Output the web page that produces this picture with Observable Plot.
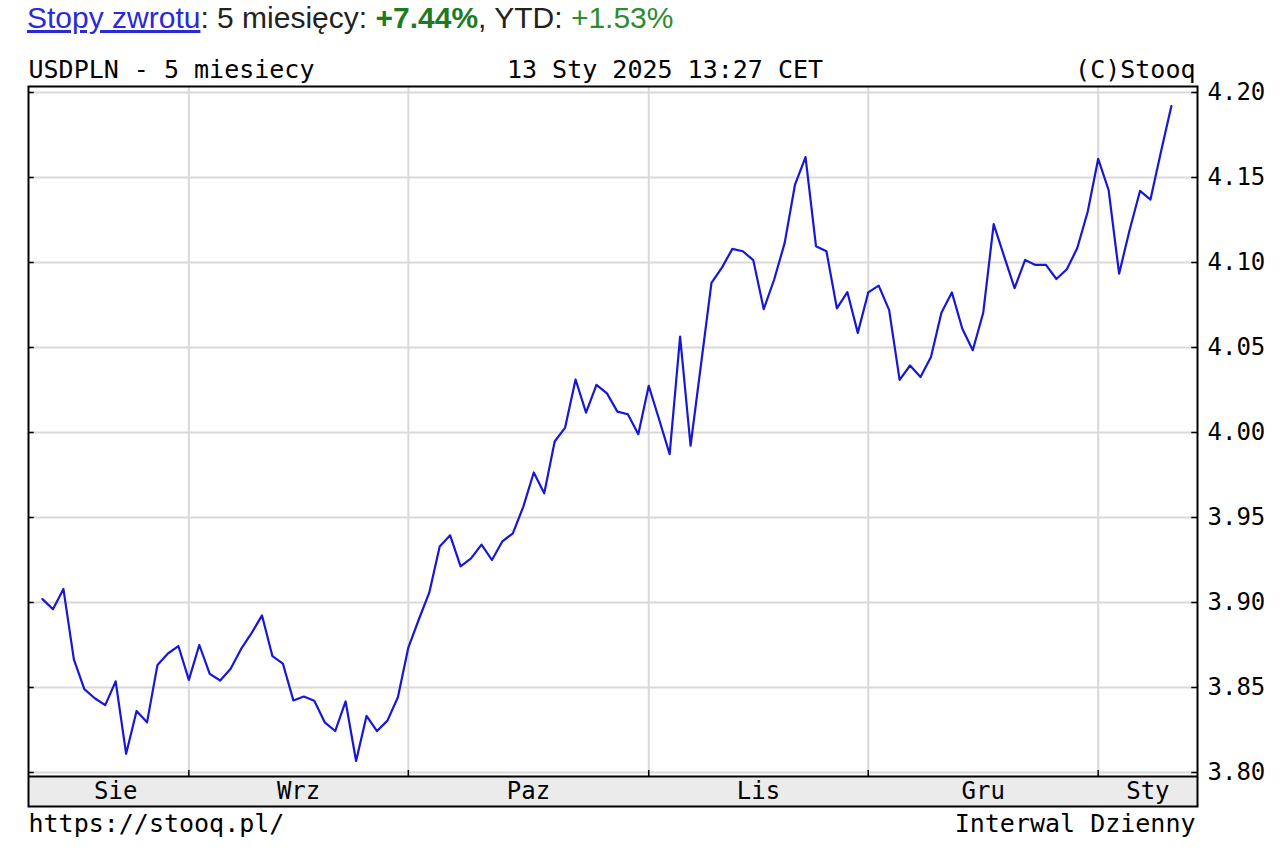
<!DOCTYPE html>
<html>
<head>
<meta charset="utf-8">
<script src="https://cdn.jsdelivr.net/npm/d3@7"></script>
<script src="https://cdn.jsdelivr.net/npm/@observablehq/plot@0.6"></script>
<style>
  html, body { margin: 0; padding: 0; background: #fff; }
  #top { position: relative; height: 45px; width: 1280px; }
  #hdr { position: absolute; left: 27px; top: 3px; font-family: "Liberation Sans", Arial, sans-serif; font-size: 30px; line-height: 30px; color: #222; white-space: nowrap; }
  #hdr a { color: #2a2ad6; text-decoration: underline; }
  #hdr .g1 { color: #1e7a1e; font-weight: bold; }
  #hdr .g2 { color: #2e8b2e; }
  #chart svg { display: block; }
</style>
</head>
<body>
<div id="top"><div id="hdr"><a>Stopy zwrotu</a>: 5 miesięcy: <span class="g1">+7.44%</span>, YTD: <span class="g2">+1.53%</span></div></div>
<div id="chart"></div>
<script>
// ---- data (USDPLN daily close, 13 Aug 2024 – 13 Jan 2025) ----
const dates = [
  "2024-08-13","2024-08-14","2024-08-15","2024-08-16","2024-08-19","2024-08-20","2024-08-21","2024-08-22","2024-08-23","2024-08-26","2024-08-27","2024-08-28","2024-08-29","2024-08-30",
  "2024-09-02","2024-09-03","2024-09-04","2024-09-05","2024-09-06","2024-09-09","2024-09-10","2024-09-11","2024-09-12","2024-09-13","2024-09-16","2024-09-17","2024-09-18","2024-09-19","2024-09-20","2024-09-23","2024-09-24","2024-09-25","2024-09-26","2024-09-27","2024-09-30",
  "2024-10-01","2024-10-02","2024-10-03","2024-10-04","2024-10-07","2024-10-08","2024-10-09","2024-10-10","2024-10-11","2024-10-14","2024-10-15","2024-10-16","2024-10-17","2024-10-18","2024-10-21","2024-10-22","2024-10-23","2024-10-24","2024-10-25","2024-10-28","2024-10-29","2024-10-30","2024-10-31",
  "2024-11-01","2024-11-04","2024-11-05","2024-11-06","2024-11-07","2024-11-08","2024-11-11","2024-11-12","2024-11-13","2024-11-14","2024-11-15","2024-11-18","2024-11-19","2024-11-20","2024-11-21","2024-11-22","2024-11-25","2024-11-26","2024-11-27","2024-11-28","2024-11-29",
  "2024-12-02","2024-12-03","2024-12-04","2024-12-05","2024-12-06","2024-12-09","2024-12-10","2024-12-11","2024-12-12","2024-12-13","2024-12-16","2024-12-17","2024-12-18","2024-12-19","2024-12-20","2024-12-23","2024-12-24","2024-12-25","2024-12-26","2024-12-27","2024-12-30","2024-12-31",
  "2025-01-02","2025-01-03","2025-01-06","2025-01-07","2025-01-08","2025-01-09","2025-01-10","2025-01-13"
];
const values = [
  3.902, 3.896, 3.908, 3.8665, 3.849, 3.8437, 3.8396, 3.8536, 3.811, 3.8362, 3.8295, 3.8633, 3.870, 3.8744,
  3.8545, 3.875, 3.858, 3.8541, 3.861, 3.8727, 3.882, 3.8924, 3.8684, 3.864, 3.8424, 3.8447, 3.8422, 3.8295, 3.8244, 3.8418, 3.8068, 3.8333, 3.8244, 3.8305, 3.8443,
  3.8735, 3.890, 3.9058, 3.933, 3.9395, 3.9213, 3.926, 3.934, 3.925, 3.936, 3.9407, 3.9564, 3.9765, 3.9642, 3.9947, 4.0029, 4.0312, 4.0117, 4.028, 4.023, 4.0123, 4.0107, 3.999,
  4.0275, 4.0075, 3.9873, 4.0564, 3.9922, 4.040, 4.088, 4.097, 4.108, 4.1066, 4.1014, 4.0726, 4.090, 4.1114, 4.146, 4.162, 4.1096, 4.1066, 4.073, 4.0826, 4.0586,
  4.0824, 4.0864, 4.072, 4.031, 4.0394, 4.0326, 4.0444, 4.0704, 4.0824, 4.061, 4.0484, 4.0704, 4.1226, 4.1036, 4.0849, 4.1014, 4.0986, 4.0986, 4.0903, 4.096, 4.1085, 4.130,
  4.161, 4.1425, 4.0934, 4.119, 4.1421, 4.137, 4.165, 4.192
];
const monthLabels = ["Sie", "Wrz", "Paz", "Lis", "Gru", "Sty"];
const yTicks = [3.80, 3.85, 3.90, 3.95, 4.00, 4.05, 4.10, 4.15, 4.20];
const titleLeft = "USDPLN - 5 miesiecy";
const titleCenter = "13 Sty 2025 13:27 CET";
const titleRight = "(C)Stooq";
const footLeft = "https://stooq.pl/";
const footRight = "Interwal Dzienny";

// ---- derived table ----
const table = values.map((v, i) => ({i, date: dates[i], v}));
const starts = [];
dates.forEach((d, i) => { if (i === 0 || d.slice(0, 7) !== dates[i - 1].slice(0, 7)) starts.push(i); });
const xMin = -1.34, xMax = 110.5;
const boundaries = starts.slice(1);
const labelRows = starts.map((s, k) => ({x: (s + (k + 1 < starts.length ? starts[k + 1] : xMax)) / 2, label: monthLabels[k]}));

const pxV = 0.4 / 680;             // value per pixel on y
const yBottom = 3.80 - 34 * pxV;   // frame bottom
const bandTop = 3.80 - 4 * pxV;    // top of the month band
const yLabel = 3.80 - 19 * pxV;

const mono = "'DejaVu Sans Mono', monospace";

const chart = Plot.plot({
  width: 1280,
  height: 808,
  marginTop: 41,
  marginBottom: 47,
  marginLeft: 28,
  marginRight: 83,
  insetTop: 6,
  insetBottom: 34,
  style: {fontFamily: mono, fontSize: "25px", color: "#000", background: "#fff", overflow: "visible"},
  x: {domain: [xMin, xMax], axis: null},
  y: {domain: [3.80, 4.20], axis: null},
  marks: [
    Plot.ruleY(yTicks, {stroke: "#d9d9d9", strokeWidth: 2, strokeOpacity: 1}),
    Plot.ruleX(boundaries, {stroke: "#d9d9d9", strokeWidth: 2, strokeOpacity: 1}),
    Plot.rect([0], {x1: () => xMin, x2: () => xMax, y1: () => yBottom, y2: () => bandTop, fill: "#ebebeb"}),
    Plot.ruleY([bandTop], {stroke: "#000", strokeWidth: 2}),
    Plot.ruleX(boundaries, {y1: bandTop, y2: bandTop + 6 * pxV, stroke: "#000", strokeWidth: 1.5}),
    Plot.ruleY(yTicks, {x1: xMin, x2: xMin + 0.55, stroke: "#000", strokeWidth: 1.5}),
    Plot.ruleY(yTicks, {x1: xMax - 0.55, x2: xMax, stroke: "#000", strokeWidth: 1.5}),
    Plot.line(table, {x: "i", y: "v", stroke: "#1717d8", strokeWidth: 2.2}),
    Plot.frame({stroke: "#000", strokeWidth: 2}),
    Plot.text(labelRows, {x: "x", y: () => yLabel, text: "label", fill: "#000", fontSize: 24, lineAnchor: "middle"}),
    Plot.axisY(yTicks, {anchor: "right", label: null, tickSize: 0, tickPadding: 10, tickFormat: d3.format(".2f"), fontSize: 24, fill: "#000", textAnchor: "start"}),
    Plot.text([titleLeft], {frameAnchor: "top-left", textAnchor: "start", lineAnchor: "bottom", dy: -9, fill: "#000", fontSize: 25}),
    Plot.text([titleCenter], {frameAnchor: "top", textAnchor: "middle", lineAnchor: "bottom", dy: -9, dx: 52, fill: "#000", fontSize: 25}),
    Plot.text([titleRight], {frameAnchor: "top-right", textAnchor: "end", lineAnchor: "bottom", dy: -9, dx: -2, fill: "#000", fontSize: 25}),
    Plot.text([footLeft], {frameAnchor: "bottom-left", textAnchor: "start", lineAnchor: "bottom", dy: 25, fill: "#000", fontSize: 25}),
    Plot.text([footRight], {frameAnchor: "bottom-right", textAnchor: "end", lineAnchor: "bottom", dy: 25, dx: -2, fill: "#000", fontSize: 25})
  ]
});
document.getElementById("chart").appendChild(chart);
</script>
</body>
</html>
